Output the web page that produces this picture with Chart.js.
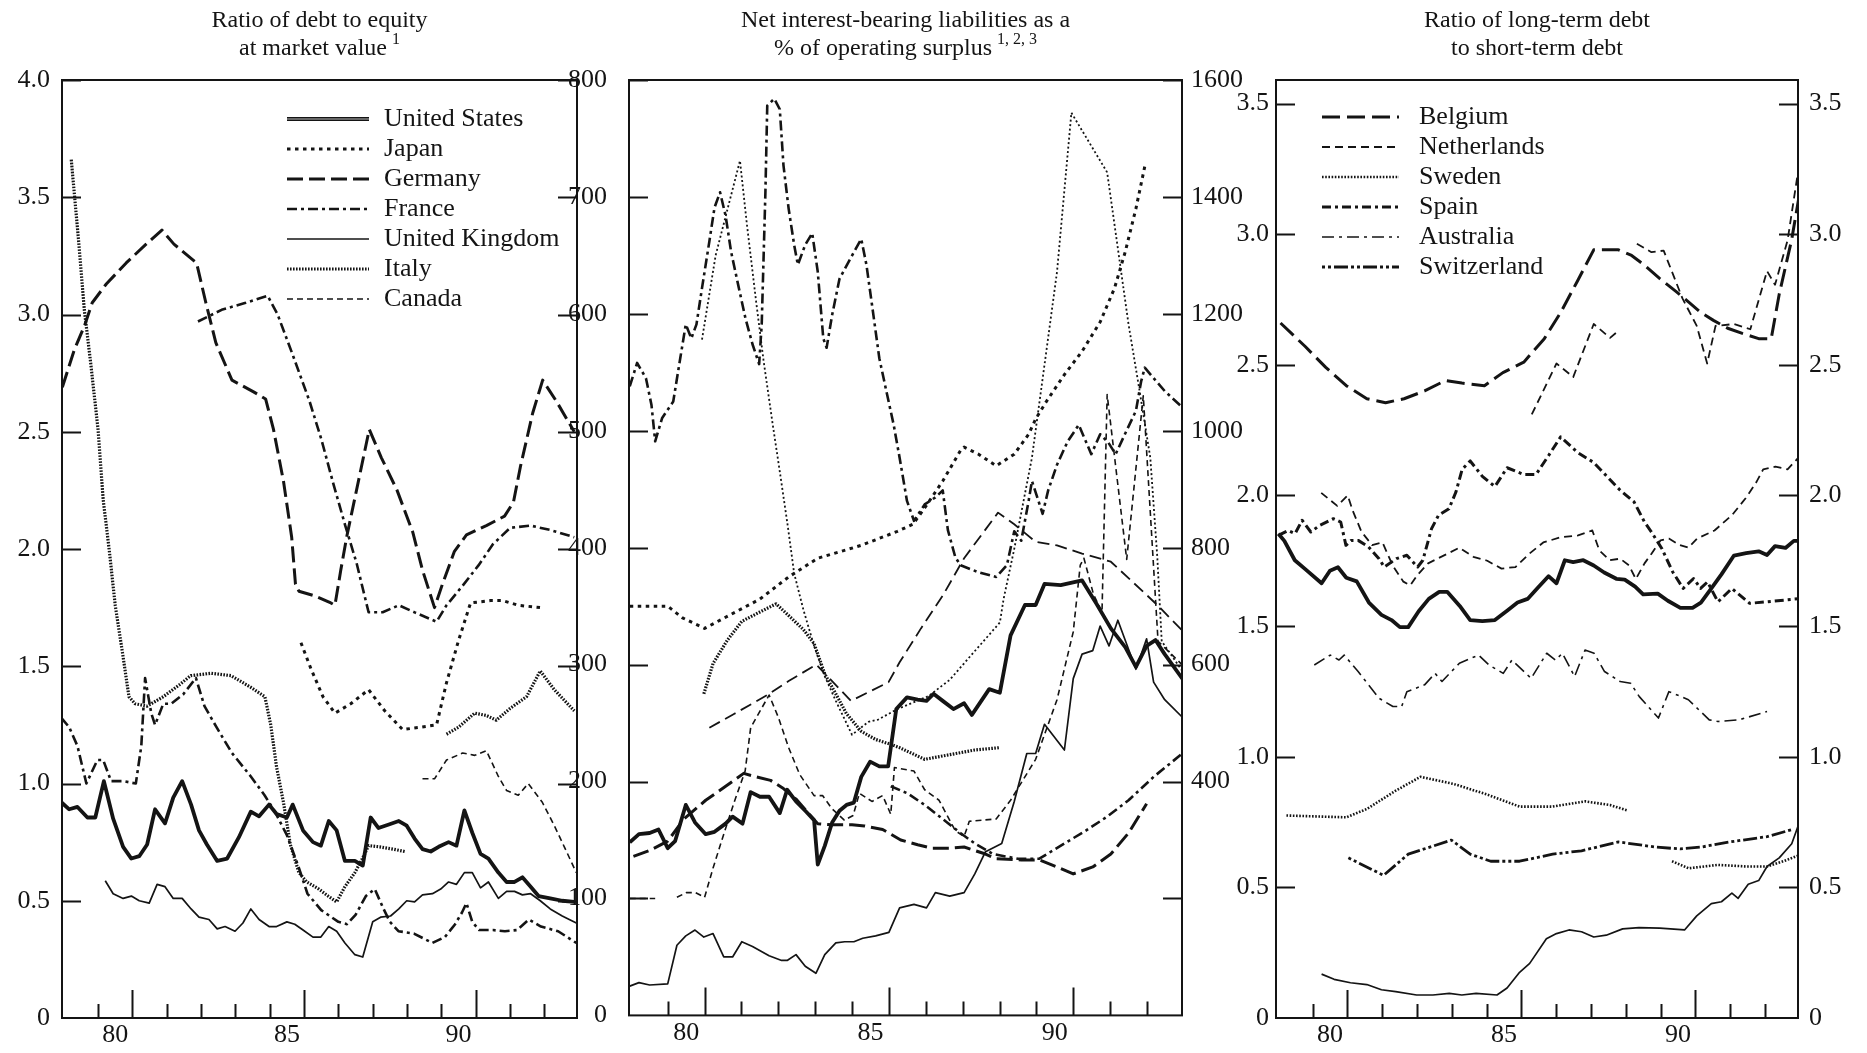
<!DOCTYPE html>
<html>
<head>
<meta charset="utf-8">
<script src="https://cdn.jsdelivr.net/npm/chart.js@4.4.1/dist/chart.umd.min.js"></script>
<style>
html, body { margin: 0; padding: 0; background: #fff; }
#wrap { position: relative; width: 1867px; height: 1053px; overflow: hidden; background: #fff; }
canvas { position: absolute; top: 0; }
</style>
</head>
<body>
<div id="wrap">
  <canvas id="debt" style="left:0px" width="600" height="1053"></canvas>
  <canvas id="liab" style="left:560px" width="690" height="1053"></canvas>
  <canvas id="term" style="left:1225px" width="642" height="1053"></canvas>
</div>
<script>
// ---- axes / ticks ----
const X_MIN = 1978.95, X_MAX = 1993.95;
const yearLabelPos = [1980.5, 1985.5, 1990.5];
const yearLabelText = ["80", "85", "90"];
const tickYears = [1980, 1981, 1982, 1983, 1984, 1985, 1986, 1987, 1988, 1989, 1990, 1991, 1992, 1993];
const longTickYears = [1981, 1986, 1991];
const debtTicks = [0, 0.5, 1.0, 1.5, 2.0, 2.5, 3.0, 3.5, 4.0];
const liabTicks = [0, 100, 200, 300, 400, 500, 600, 700, 800];
const liabRightTicks = [400, 600, 800, 1000, 1200, 1400, 1600];
const termTicks = [0, 0.5, 1.0, 1.5, 2.0, 2.5, 3.0, 3.5];

// ---- panel 1: ratio of debt to equity at market value ----
const usDebt = [[1978.93,0.92],[1979.16,0.89],[1979.40,0.90],[1979.69,0.855],[1979.92,0.855],[1980.17,1.01],[1980.44,0.85],[1980.73,0.73],[1980.97,0.68],[1981.2,0.69],[1981.43,0.74],[1981.66,0.89],[1981.95,0.83],[1982.19,0.94],[1982.45,1.01],[1982.71,0.91],[1982.94,0.80],[1983.17,0.74],[1983.47,0.67],[1983.76,0.68],[1984.1,0.77],[1984.45,0.88],[1984.69,0.86],[1984.98,0.91],[1985.2,0.87],[1985.5,0.855],[1985.67,0.91],[1985.97,0.80],[1986.26,0.75],[1986.49,0.735],[1986.72,0.84],[1986.95,0.80],[1987.19,0.67],[1987.48,0.67],[1987.71,0.65],[1987.94,0.855],[1988.17,0.81],[1988.47,0.825],[1988.76,0.84],[1988.99,0.82],[1989.22,0.765],[1989.45,0.72],[1989.69,0.71],[1989.92,0.73],[1990.21,0.75],[1990.44,0.735],[1990.67,0.885],[1990.9,0.79],[1991.14,0.70],[1991.37,0.68],[1991.66,0.62],[1991.9,0.58],[1992.13,0.58],[1992.36,0.60],[1992.6,0.56],[1992.83,0.52],[1993.17,0.51],[1993.52,0.50],[1993.87,0.495]];
const japanDebt = [[1985.91,1.60],[1986.2,1.49],[1986.55,1.37],[1986.9,1.30],[1987.36,1.34],[1987.88,1.40],[1988.35,1.31],[1988.87,1.23],[1989.4,1.24],[1989.86,1.25],[1990.15,1.43],[1990.5,1.61],[1990.85,1.77],[1991.43,1.78],[1991.78,1.78],[1992.24,1.76],[1992.88,1.75]];
const germanyDebt = [[1978.96,2.69],[1979.31,2.85],[1979.6,2.95],[1979.83,3.05],[1980.24,3.13],[1980.82,3.22],[1981.4,3.30],[1981.86,3.36],[1982.21,3.30],[1982.87,3.22],[1983.14,3.05],[1983.43,2.88],[1983.9,2.72],[1984.53,2.67],[1984.88,2.64],[1985.11,2.51],[1985.4,2.29],[1985.64,2.05],[1985.75,1.85],[1985.85,1.82],[1986.31,1.80],[1986.78,1.77],[1986.9,1.76],[1987.07,1.91],[1987.24,2.05],[1987.9,2.51],[1988.25,2.39],[1988.71,2.25],[1989.17,2.07],[1989.45,1.91],[1989.8,1.75],[1990.03,1.85],[1990.38,1.99],[1990.73,2.06],[1991.31,2.10],[1991.84,2.14],[1992.1,2.2],[1992.3,2.35],[1992.66,2.58],[1992.95,2.72],[1993.35,2.63],[1993.87,2.50]];
const franceDebt = [[1978.93,1.28],[1979.16,1.24],[1979.4,1.16],[1979.66,1.0],[1979.98,1.10],[1980.15,1.10],[1980.38,1.01],[1980.73,1.01],[1981.1,1.0],[1981.26,1.16],[1981.37,1.45],[1981.55,1.30],[1981.66,1.25],[1981.9,1.34],[1982.13,1.34],[1982.48,1.38],[1982.85,1.45],[1983.1,1.33],[1983.45,1.24],[1983.9,1.13],[1984.45,1.03],[1984.85,0.95],[1985.15,0.88],[1985.5,0.78],[1985.85,0.64],[1986.1,0.53],[1986.5,0.46],[1987.0,0.41],[1987.25,0.40],[1987.5,0.44],[1987.8,0.52],[1988.06,0.55],[1988.3,0.47],[1988.5,0.41],[1988.75,0.37],[1989.2,0.36],[1989.74,0.32],[1990.1,0.345],[1990.4,0.40],[1990.6,0.45],[1990.73,0.49],[1990.9,0.41],[1991.1,0.375],[1991.5,0.375],[1991.85,0.37],[1992.2,0.375],[1992.55,0.42],[1992.9,0.39],[1993.4,0.37],[1993.93,0.32]];
const franceDebtHigh = [[1982.91,2.97],[1983.6,3.02],[1984.3,3.05],[1984.94,3.08],[1985.23,3.0],[1985.69,2.82],[1986.16,2.63],[1986.5,2.47],[1986.85,2.28],[1987.2,2.10],[1987.53,1.94],[1987.88,1.73],[1988.29,1.73],[1988.76,1.76],[1989.22,1.73],[1989.86,1.69],[1990.15,1.76],[1990.6,1.84],[1991.08,1.93],[1991.5,2.02],[1992.0,2.09],[1992.59,2.10],[1993.2,2.08],[1993.87,2.05]];
const ukDebt = [[1980.21,0.585],[1980.44,0.53],[1980.73,0.51],[1980.97,0.52],[1981.2,0.50],[1981.49,0.49],[1981.72,0.57],[1981.95,0.56],[1982.19,0.51],[1982.45,0.51],[1982.71,0.465],[1982.94,0.43],[1983.23,0.42],[1983.47,0.38],[1983.7,0.39],[1983.99,0.37],[1984.22,0.405],[1984.45,0.465],[1984.69,0.42],[1984.98,0.39],[1985.2,0.39],[1985.5,0.41],[1985.73,0.40],[1985.97,0.375],[1986.26,0.345],[1986.49,0.345],[1986.72,0.39],[1986.95,0.37],[1987.19,0.32],[1987.48,0.27],[1987.71,0.26],[1988.0,0.41],[1988.23,0.43],[1988.52,0.435],[1988.76,0.465],[1988.99,0.50],[1989.22,0.495],[1989.45,0.525],[1989.74,0.53],[1989.98,0.55],[1990.21,0.58],[1990.44,0.57],[1990.67,0.62],[1990.9,0.62],[1991.14,0.555],[1991.37,0.58],[1991.66,0.51],[1991.9,0.54],[1992.13,0.54],[1992.36,0.525],[1992.6,0.53],[1992.88,0.50],[1993.17,0.465],[1993.52,0.435],[1993.93,0.405]];
const italyDebt = [[1979.22,3.66],[1979.3,3.53],[1979.43,3.32],[1979.6,3.02],[1979.78,2.80],[1980.0,2.51],[1980.15,2.21],[1980.33,1.99],[1980.5,1.76],[1980.73,1.54],[1980.9,1.37],[1981.08,1.34],[1981.43,1.33],[1981.9,1.37],[1982.36,1.42],[1982.7,1.46],[1983.3,1.47],[1983.87,1.46],[1984.45,1.41],[1984.86,1.37],[1985.03,1.25],[1985.2,1.07],[1985.4,0.92],[1985.6,0.74],[1985.85,0.62],[1986.08,0.58],[1986.43,0.55],[1986.7,0.52],[1986.95,0.495],[1987.19,0.56],[1987.48,0.62],[1987.7,0.68],[1987.88,0.735],[1988.2,0.73],[1988.6,0.72],[1988.93,0.71]];
const italyDebtLate = [[1990.15,1.21],[1990.5,1.24],[1990.97,1.30],[1991.31,1.29],[1991.6,1.27],[1992.0,1.32],[1992.48,1.37],[1992.88,1.48],[1993.29,1.40],[1993.87,1.31]];
const canadaDebt = [[1989.45,1.02],[1989.8,1.02],[1990.15,1.10],[1990.62,1.13],[1990.97,1.12],[1991.31,1.14],[1991.66,1.03],[1991.9,0.97],[1992.24,0.95],[1992.53,1.00],[1992.94,0.92],[1993.29,0.82],[1993.58,0.73],[1993.93,0.62]];

// ---- panel 2: net interest-bearing liabilities, % of operating surplus ----
const usLiab = [[1978.97,148],[1979.22,155],[1979.51,156],[1979.75,159],[1980.0,143],[1980.2,149],[1980.49,180],[1980.74,165],[1981.03,155],[1981.27,157],[1981.57,164],[1981.76,170],[1982.03,164],[1982.25,191],[1982.5,187],[1982.75,187],[1983.04,173],[1983.24,193],[1983.48,183],[1983.73,175],[1983.97,167],[1984.07,129],[1984.26,145],[1984.46,165],[1984.66,175],[1984.85,180],[1985.05,182],[1985.25,204],[1985.49,217],[1985.74,213],[1985.98,213],[1986.2,262],[1986.49,272],[1986.78,270],[1987.02,269],[1987.21,275],[1987.46,269],[1987.75,262],[1988.04,267],[1988.25,257],[1988.72,279],[1989.01,276],[1989.3,325],[1989.69,351],[1989.98,351],[1990.22,369],[1990.66,368],[1991.24,372],[1991.63,352],[1992.02,331],[1992.41,315],[1992.7,298],[1992.99,316],[1993.23,321],[1993.48,309],[1993.96,288]];
const ukLiab = [[1978.97,25],[1979.22,28],[1979.51,26],[1980.0,27],[1980.25,60],[1980.49,68],[1980.74,73],[1980.98,67],[1981.23,70],[1981.52,50],[1981.76,50],[1982.01,63],[1982.3,59],[1982.75,51],[1983.09,47],[1983.24,47],[1983.48,52],[1983.73,42],[1984.02,36],[1984.26,52],[1984.56,62],[1984.8,63],[1985.05,63],[1985.29,66],[1985.64,68],[1986.0,71],[1986.29,92],[1986.68,95],[1987.02,92],[1987.26,105],[1987.65,102],[1988.04,105],[1988.33,121],[1988.62,140],[1989.06,147],[1989.4,183],[1989.74,224],[1989.98,224],[1990.22,249],[1990.76,227],[1991.0,288],[1991.24,309],[1991.53,312],[1991.73,333],[1991.97,316],[1992.21,338],[1992.7,296],[1992.99,322],[1993.18,285],[1993.48,270],[1993.96,255]];
const franceLiab = [[1978.97,538],[1979.17,558],[1979.41,545],[1979.56,522],[1979.66,491],[1979.85,511],[1980.15,525],[1980.34,562],[1980.49,591],[1980.64,579],[1980.78,591],[1980.93,622],[1981.13,662],[1981.27,691],[1981.42,704],[1981.57,684],[1981.72,653],[1981.91,625],[1982.11,596],[1982.3,574],[1982.48,557],[1982.55,591],[1982.65,704],[1982.7,778],[1982.89,784],[1983.04,775],[1983.14,727],[1983.28,690],[1983.43,659],[1983.53,642],[1983.73,659],[1983.92,669],[1984.07,636],[1984.22,579],[1984.31,571],[1984.46,599],[1984.66,630],[1984.95,647],[1985.25,664],[1985.39,642],[1985.54,608],[1985.74,562],[1985.93,534],[1986.13,505],[1986.29,477],[1986.49,440],[1986.68,423],[1986.97,437],[1987.26,443],[1987.46,449],[1987.6,415],[1987.8,392],[1987.94,385],[1988.43,379],[1988.91,375],[1989.2,385],[1989.4,414],[1989.59,406],[1989.79,440],[1989.88,457],[1990.17,429],[1990.32,449],[1990.56,471],[1990.85,491],[1991.15,505],[1991.34,491],[1991.49,480],[1991.73,497],[1991.95,490],[1992.15,480],[1992.4,497],[1992.7,517],[1992.84,542],[1992.94,554],[1993.18,545],[1993.48,534],[1993.96,520]];
const franceLiabLow = [[1986.05,196],[1986.5,190],[1986.97,180],[1987.46,168],[1987.94,156],[1988.33,147],[1988.82,138],[1989.5,134],[1990.08,134],[1990.76,147],[1991.34,158],[1991.92,170],[1992.5,184],[1993.18,204],[1993.96,224]];
const japanLiab = [[1978.97,350],[1980.0,350],[1980.4,340],[1981.0,331],[1981.72,343],[1982.5,356],[1983.28,375],[1984.07,391],[1985.25,402],[1986.23,414],[1986.65,420],[1986.97,434],[1987.46,457],[1987.94,483],[1988.04,486],[1988.43,480],[1988.91,470],[1989.4,480],[1989.79,497],[1989.98,510],[1990.27,525],[1990.76,548],[1991.24,568],[1991.73,593],[1992.12,622],[1992.41,653],[1992.7,690],[1992.94,726]];
const germanyLiab = [[1979.07,136],[1979.51,141],[1980.0,149],[1980.44,168],[1981.03,184],[1981.62,197],[1982.06,207],[1982.4,204],[1982.79,201],[1983.14,194],[1983.48,185],[1983.87,171],[1984.07,164],[1984.46,163],[1985.0,163],[1985.34,162],[1985.83,159],[1986.32,150],[1986.78,146],[1987.17,143],[1987.65,143],[1988.04,144],[1988.62,138],[1988.91,134],[1989.59,133],[1990.08,133],[1990.56,127],[1991.0,121],[1991.53,127],[1992.02,138],[1992.5,156],[1992.99,181]];
const italyLiab = [[1980.98,275],[1981.23,301],[1981.62,321],[1982.01,337],[1982.5,345],[1982.94,352],[1983.28,342],[1983.68,330],[1983.97,318],[1984.26,292],[1984.56,275],[1984.85,258],[1985.25,243],[1985.64,236],[1986.03,232],[1986.29,229],[1986.97,219],[1987.65,223],[1988.33,227],[1989.01,229]];
const italyLiabThin = [[1980.93,578],[1981.3,650],[1981.96,731],[1982.15,676],[1982.4,610],[1982.6,560],[1982.85,505],[1983.05,463],[1983.25,420],[1983.43,378],[1983.68,347],[1983.97,316],[1984.26,290],[1984.56,269],[1985.0,240],[1985.44,251],[1985.71,253],[1986.23,262],[1987.07,273],[1987.65,287],[1988.23,308],[1989.01,336],[1989.11,356],[1989.4,399],[1989.88,477],[1990.27,568],[1990.56,636],[1990.95,772],[1991.92,721],[1992.5,591],[1992.8,534],[1993.09,477],[1993.28,392],[1993.4,320],[1993.95,295]];
const canadaLiab = [[1978.97,100],[1979.66,100],[1979.9,null],[1980.25,101],[1980.5,105],[1980.75,105],[1981.0,101],[1981.23,126],[1981.52,155],[1981.81,183],[1982.1,209],[1982.25,246],[1982.75,274],[1983.0,255],[1983.28,229],[1983.58,206],[1983.97,188],[1984.2,188],[1984.45,177],[1984.79,167],[1985.03,171],[1985.2,190],[1985.54,183],[1985.83,188],[1986.05,172],[1986.15,212],[1986.68,209],[1986.97,193],[1987.36,184],[1987.8,158],[1988.04,153],[1988.18,166],[1988.91,168],[1989.3,184],[1989.98,219],[1990.56,270],[1991.0,328],[1991.19,385],[1991.29,391],[1991.55,360],[1991.78,345],[1991.92,531],[1992.45,390],[1992.9,530],[1993.3,320],[1993.95,300]];
const australiaLiab = [[1981.13,246],[1981.81,258],[1982.7,274],[1983.28,286],[1984.03,300],[1984.97,269],[1985.99,285],[1986.29,302],[1986.87,331],[1987.46,359],[1988.04,391],[1988.96,430],[1989.4,420],[1989.98,405],[1990.56,402],[1991.24,395],[1992.02,388],[1992.5,374],[1993.28,351],[1993.96,329]];

// ---- panel 3: ratio of long-term debt to short-term debt ----
const usTerm = [[1979.02,1.853],[1979.19,1.826],[1979.49,1.752],[1979.79,1.718],[1980.26,1.664],[1980.5,1.712],[1980.73,1.725],[1980.97,1.685],[1981.27,1.671],[1981.62,1.590],[1981.98,1.543],[1982.27,1.523],[1982.51,1.496],[1982.75,1.496],[1983.05,1.557],[1983.34,1.604],[1983.64,1.631],[1983.87,1.631],[1984.23,1.577],[1984.53,1.523],[1984.88,1.519],[1985.24,1.523],[1985.59,1.559],[1985.89,1.590],[1986.18,1.604],[1986.48,1.648],[1986.78,1.691],[1987.01,1.664],[1987.25,1.752],[1987.49,1.745],[1987.78,1.752],[1988.08,1.732],[1988.38,1.705],[1988.73,1.681],[1988.97,1.678],[1989.27,1.651],[1989.5,1.621],[1989.92,1.624],[1990.21,1.597],[1990.57,1.570],[1990.92,1.570],[1991.16,1.590],[1991.46,1.644],[1991.75,1.698],[1992.11,1.770],[1992.46,1.779],[1992.82,1.786],[1993.06,1.772],[1993.29,1.806],[1993.59,1.799],[1993.83,1.826],[1994.06,1.826]];
const ukTerm = [[1980.26,0.168],[1980.62,0.148],[1981.09,0.135],[1981.56,0.128],[1981.98,0.108],[1982.39,0.101],[1982.99,0.088],[1983.46,0.088],[1983.93,0.094],[1984.29,0.088],[1984.7,0.094],[1985.3,0.088],[1985.59,0.115],[1985.95,0.175],[1986.24,0.209],[1986.72,0.303],[1987.01,0.323],[1987.37,0.337],[1987.73,0.330],[1988.08,0.310],[1988.44,0.317],[1988.91,0.341],[1989.38,0.346],[1989.98,0.344],[1990.69,0.337],[1991.04,0.391],[1991.46,0.438],[1991.75,0.445],[1992.05,0.478],[1992.23,0.458],[1992.52,0.512],[1992.82,0.526],[1993.06,0.580],[1993.41,0.613],[1993.77,0.667],[1993.95,0.734],[1994.06,0.775]];
const belgiumTerm = [[1979.08,2.66],[1979.79,2.57],[1980.38,2.49],[1980.97,2.42],[1981.56,2.37],[1982.1,2.355],[1982.63,2.37],[1983.22,2.40],[1983.82,2.44],[1984.29,2.43],[1984.94,2.42],[1985.47,2.47],[1986.07,2.51],[1986.66,2.60],[1987.13,2.70],[1987.61,2.82],[1988.08,2.94],[1988.79,2.94],[1989.15,2.92],[1989.5,2.885],[1989.98,2.83],[1990.45,2.78],[1990.81,2.74],[1991.16,2.70],[1991.52,2.67],[1991.93,2.64],[1992.35,2.62],[1992.82,2.60],[1993.18,2.60],[1993.41,2.77],[1993.77,2.98],[1994.0,3.16]];
const netherlandsTerm = [[1980.25,2.01],[1980.71,1.96],[1981.01,2.0],[1981.16,1.94],[1981.41,1.86],[1981.71,1.81],[1982.01,1.82],[1982.31,1.73],[1982.61,1.67],[1982.81,1.656],[1983.01,1.695],[1983.32,1.74],[1983.62,1.76],[1984.22,1.80],[1984.62,1.765],[1985.02,1.75],[1985.43,1.72],[1985.83,1.726],[1986.23,1.777],[1986.63,1.82],[1987.13,1.84],[1987.63,1.847],[1988.04,1.866],[1988.24,1.79],[1988.54,1.752],[1988.84,1.758],[1989.09,1.733],[1989.29,1.68],[1989.54,1.74],[1989.74,1.777],[1990.0,1.828],[1990.24,1.835],[1990.55,1.81],[1990.8,1.80],[1991.05,1.835],[1991.55,1.866],[1992.05,1.924],[1992.45,1.99],[1992.75,2.05],[1992.95,2.10],[1993.3,2.11],[1993.65,2.10],[1994.0,2.15]];
const netherlandsTermMid = [[1986.3,2.31],[1987.01,2.505],[1987.49,2.453],[1988.08,2.656],[1988.55,2.603],[1988.79,2.63]];
const netherlandsTermHigh = [[1989.32,2.963],[1989.74,2.931],[1990.09,2.937],[1990.63,2.754],[1991.04,2.649],[1991.34,2.505],[1991.58,2.649],[1992.11,2.656],[1992.58,2.636],[1993.06,2.859],[1993.29,2.806],[1993.65,2.976],[1993.95,3.238],[1994.1,3.40]];
const swedenTerm = [[1979.25,0.775],[1980.97,0.768],[1981.56,0.80],[1982.39,0.87],[1983.1,0.923],[1984.05,0.896],[1985.0,0.856],[1985.95,0.809],[1986.9,0.809],[1987.84,0.829],[1988.55,0.815],[1989.03,0.795],[1989.7,null],[1990.33,0.60],[1990.81,0.573],[1991.64,0.586],[1992.46,0.58],[1993.06,0.58],[1993.53,0.60],[1994.06,0.627]];
const spainTerm = [[1979.02,1.847],[1979.3,1.866],[1979.5,1.854],[1979.7,1.905],[1979.95,1.86],[1980.2,1.885],[1980.6,1.911],[1980.81,1.898],[1980.96,1.809],[1981.11,1.828],[1981.31,1.828],[1981.61,1.803],[1981.91,1.758],[1982.06,1.726],[1982.41,1.758],[1982.71,1.771],[1983.02,1.726],[1983.17,1.752],[1983.42,1.873],[1983.62,1.924],[1983.92,1.949],[1984.12,2.013],[1984.3,2.10],[1984.53,2.132],[1984.88,2.073],[1985.24,2.034],[1985.59,2.106],[1986.07,2.08],[1986.42,2.08],[1986.78,2.152],[1987.13,2.224],[1987.61,2.165],[1988.08,2.126],[1988.55,2.06],[1988.84,2.02],[1989.24,1.975],[1989.54,1.898],[1989.74,1.86],[1990.04,1.796],[1990.35,1.707],[1990.65,1.644],[1990.95,1.682],[1991.15,1.644],[1991.35,1.669],[1991.65,1.593],[1992.05,1.644],[1992.56,1.587],[1993.06,1.593],[1994.06,1.606]];
const australiaTerm = [[1980.05,1.351],[1980.51,1.389],[1980.76,1.370],[1980.91,1.389],[1981.31,1.326],[1981.91,1.224],[1982.31,1.192],[1982.56,1.192],[1982.71,1.249],[1983.22,1.275],[1983.52,1.319],[1983.72,1.288],[1984.22,1.358],[1984.77,1.389],[1985.07,1.351],[1985.48,1.319],[1985.73,1.370],[1986.28,1.300],[1986.73,1.396],[1986.98,1.370],[1987.18,1.396],[1987.53,1.307],[1987.83,1.408],[1988.09,1.396],[1988.39,1.326],[1988.84,1.288],[1989.14,1.281],[1989.39,1.230],[1989.94,1.148],[1990.24,1.249],[1990.6,1.230],[1990.8,1.218],[1991.4,1.141],[1991.65,1.135],[1992.25,1.141],[1993.06,1.173]];
const switzerlandTerm = [[1981.03,0.613],[1982.04,0.546],[1982.75,0.627],[1983.99,0.681],[1984.53,0.627],[1985.12,0.60],[1985.95,0.60],[1986.9,0.627],[1987.73,0.64],[1988.79,0.674],[1989.86,0.654],[1990.57,0.647],[1991.16,0.654],[1991.99,0.674],[1993.06,0.694],[1993.77,0.721]];

// ---- look ----
const INK = "#141414";
const FONT = "'Liberation Serif', 'Times New Roman', Times, serif";
const TICK_PX = 26, TITLE_PX = 24, LEGEND_PX = 26;
const STY = {
  us:          { w: 3.8, dash: [] },
  usCore:      { w: 1.2, dash: [] },
  japan:       { w: 3.0, dash: [3.5, 4.5] },
  germany:     { w: 3.0, dash: [16, 6] },
  france:      { w: 2.6, dash: [10, 4, 3, 4] },
  uk:          { w: 1.7, dash: [] },
  italy:       { w: 3.2, dash: [1.6, 1.4] },
  italyThin:   { w: 1.8, dash: [2, 2.5] },
  canada:      { w: 1.6, dash: [6, 4] },
  longThin:    { w: 1.8, dash: [12, 6] },
  belgium:     { w: 3.0, dash: [18, 7] },
  netherlands: { w: 1.8, dash: [8, 5] },
  sweden:      { w: 2.6, dash: [1.6, 1.6] },
  spain:       { w: 3.0, dash: [9, 4, 3, 4] },
  australia:   { w: 1.6, dash: [12, 5, 3, 5] },
  switzerland: { w: 2.8, dash: [3, 3, 3, 3, 14, 3] }
};

function series(label, pts, st, color) {
  return {
    label: label,
    data: pts.map(p => ({ x: p[0], y: p[1] })),
    borderColor: color || INK, backgroundColor: color || INK,
    borderWidth: st.w, borderDash: st.dash,
    borderCapStyle: "butt", borderJoinStyle: "round",
    pointRadius: 0, tension: 0, fill: false,
    yAxisID: "y"
  };
}
// the thick US line is printed as an outlined stroke: dark edge with a pale core
function outlined(label, pts) {
  return [series(label, pts, STY.us), series(label + " core", pts, STY.usCore, "#b8b8b8")];
}

// inward ticks, box, titles, legend
const framePlugin = {
  id: "frame",
  afterDatasetsDraw(chart, args, o) {
    const ctx = chart.ctx, a = chart.chartArea, x = chart.scales.x, y = chart.scales.y;
    ctx.save();
    ctx.strokeStyle = INK;
    ctx.lineWidth = 2;
    ctx.setLineDash([]);
    ctx.strokeRect(a.left, a.top, a.right - a.left, a.bottom - a.top);
    ctx.beginPath();
    o.yTicks.forEach(v => {
      if (v === 0) return;
      const py = Math.round(y.getPixelForValue(v)) + 0.5;
      ctx.moveTo(a.left, py); ctx.lineTo(a.left + 19, py);
      ctx.moveTo(a.right - 19, py); ctx.lineTo(a.right, py);
    });
    tickYears.forEach(yr => {
      const px = Math.round(x.getPixelForValue(yr)) + 0.5;
      const len = longTickYears.includes(yr) ? 28 : 14;
      ctx.moveTo(px, a.bottom); ctx.lineTo(px, a.bottom - len);
    });
    ctx.stroke();
    ctx.restore();
  },
  afterDraw(chart, args, o) {
    const ctx = chart.ctx, a = chart.chartArea;
    const cx = (a.left + a.right) / 2;
    ctx.save();
    ctx.fillStyle = INK;
    ctx.textBaseline = "middle";
    (o.title || []).forEach((t, i) => {
      const yy = 21 + i * 28;
      ctx.font = TITLE_PX + "px " + FONT;
      const mw = ctx.measureText(t.text).width;
      let sw = 0;
      if (t.sup) { ctx.font = "16px " + FONT; sw = ctx.measureText(t.sup).width + 5; }
      const x0 = cx - (mw + sw) / 2;
      ctx.textAlign = "left";
      ctx.font = TITLE_PX + "px " + FONT;
      ctx.fillText(t.text, x0, yy);
      if (t.sup) { ctx.font = "16px " + FONT; ctx.fillText(t.sup, x0 + mw + 5, yy - 9); }
    });
    if (o.legend) {
      const L = o.legend;
      L.rows.forEach((name, i) => {
        const yy = L.y0 + i * L.dy;
        chart.data.datasets.filter(d => d.label === name || d.label === name + " core").forEach(ds => {
          ctx.save();
          ctx.strokeStyle = ds.borderColor;
          ctx.lineWidth = ds.borderWidth;
          ctx.setLineDash(ds.borderDash);
          ctx.lineCap = "butt";
          ctx.beginPath(); ctx.moveTo(L.x0, yy); ctx.lineTo(L.x1, yy); ctx.stroke();
          ctx.restore();
        });
        ctx.font = LEGEND_PX + "px " + FONT;
        ctx.textAlign = "left";
        ctx.fillText(name, L.tx, yy);
      });
    }
    ctx.restore();
  }
};

function xScale() {
  return {
    type: "linear", min: X_MIN, max: X_MAX,
    grid: { display: false, drawTicks: false }, border: { display: false },
    afterBuildTicks: s => { s.ticks = yearLabelPos.map(v => ({ value: v })); },
    ticks: { autoSkip: false, maxRotation: 0, padding: 2, color: INK, font: { family: FONT, size: TICK_PX },
             callback: v => yearLabelText[yearLabelPos.indexOf(v)] },
    afterFit: s => { s.height = 35; }
  };
}
function yScale(pos, min, max, list, fmt, width, pad) {
  return {
    type: "linear", position: pos, min: min, max: max,
    grid: { display: false, drawTicks: false }, border: { display: false },
    afterBuildTicks: s => { s.ticks = list.map(v => ({ value: v })); },
    ticks: { autoSkip: false, padding: pad, color: INK, font: { family: FONT, size: TICK_PX }, callback: fmt },
    afterFit: s => { s.width = width; }
  };
}
const fmt1 = v => (v === 0 ? "0" : v.toFixed(1));
const fmt0 = v => String(v);

function make(id, datasets, scales, padRight, frame) {
  return new Chart(document.getElementById(id), {
    type: "line",
    data: { datasets: datasets },
    options: {
      responsive: false, animation: false, devicePixelRatio: 1,
      layout: { padding: { top: 80, right: padRight, left: 0, bottom: 0 } },
      scales: scales,
      plugins: { legend: { display: false }, tooltip: { enabled: false }, title: { display: false }, frame: frame }
    },
    plugins: [framePlugin]
  });
}

function drawAll() {
  make("debt", [
    ...outlined("United States", usDebt),
    series("Japan", japanDebt, STY.japan),
    series("Germany", germanyDebt, STY.germany),
    series("France", franceDebt, STY.france),
    series("France (b)", franceDebtHigh, STY.france),
    series("United Kingdom", ukDebt, STY.uk),
    series("Italy", italyDebt, STY.italy),
    series("Italy (b)", italyDebtLate, STY.italy),
    series("Canada", canadaDebt, STY.canada)
  ], {
    x: xScale(),
    y: yScale("left", 0, 4, debtTicks, fmt1, 62, 12)
  }, 23, {
    yTicks: debtTicks,
    title: [{ text: "Ratio of debt to equity" }, { text: "at market value", sup: "1" }],
    legend: { rows: ["United States", "Japan", "Germany", "France", "United Kingdom", "Italy", "Canada"],
              x0: 287, x1: 369, tx: 384, y0: 119, dy: 30 }
  });

  make("liab", [
    ...outlined("United States", usLiab),
    series("United Kingdom", ukLiab, STY.uk),
    series("France", franceLiab, STY.france),
    series("France (b)", franceLiabLow, STY.france),
    series("Japan", japanLiab, STY.japan),
    series("Germany", germanyLiab, STY.germany),
    series("Italy", italyLiab, STY.italy),
    series("Italy (b)", italyLiabThin, STY.italyThin),
    series("Canada", canadaLiab, STY.canada),
    series("Other", australiaLiab, STY.longThin)
  ], {
    x: xScale(),
    y: yScale("left", 0, 800, liabTicks, fmt0, 69, 22),
    y2: yScale("right", 0, 1600, liabRightTicks, fmt0, 68, 9)
  }, 0, {
    yTicks: liabTicks,
    title: [{ text: "Net interest-bearing liabilities as a" }, { text: "% of operating surplus", sup: "1, 2, 3" }]
  });

  make("term", [
    ...outlined("United States", usTerm),
    series("United Kingdom", ukTerm, STY.uk),
    series("Belgium", belgiumTerm, STY.belgium),
    series("Netherlands", netherlandsTerm, STY.netherlands),
    series("Netherlands (b)", netherlandsTermMid, STY.netherlands),
    series("Netherlands (c)", netherlandsTermHigh, STY.netherlands),
    series("Sweden", swedenTerm, STY.sweden),
    series("Spain", spainTerm, STY.spain),
    series("Australia", australiaTerm, STY.australia),
    series("Switzerland", switzerlandTerm, STY.switzerland)
  ], {
    x: xScale(),
    y: yScale("left", 0, 3.59, termTicks, fmt1, 51, 7),
    y2: yScale("right", 0, 3.59, termTicks, fmt1, 69, 11)
  }, 0, {
    yTicks: termTicks,
    title: [{ text: "Ratio of long-term debt" }, { text: "to short-term debt" }],
    legend: { rows: ["Belgium", "Netherlands", "Sweden", "Spain", "Australia", "Switzerland"],
              x0: 97, x1: 174, tx: 194, y0: 117, dy: 30 }
  });
}

if (document.fonts && document.fonts.load) {
  Promise.all([
    document.fonts.load(TICK_PX + "px 'Liberation Serif'"),
    document.fonts.load(TITLE_PX + "px 'Liberation Serif'")
  ]).then(drawAll, drawAll);
} else {
  drawAll();
}
</script>
</body>
</html>
